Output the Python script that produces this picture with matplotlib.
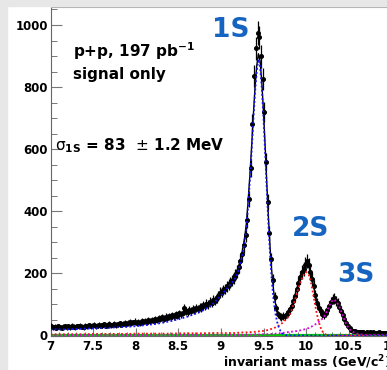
import numpy as np
import matplotlib
matplotlib.use('Agg')
import matplotlib.pyplot as plt
from matplotlib.patches import Rectangle
from matplotlib.ticker import MultipleLocator

plt.rcParams['font.family'] = ['DejaVu Sans']
plt.rcParams['mathtext.fontset'] = 'dejavusans'

# ---------------- data: histogram with 0.02 GeV bins starting at 7.0 ----------------
bin_lo = 7.0
bin_width = 0.02
counts = [
    31, 26, 28, 25, 29, 27, 24, 28, 30, 26,          # 7.0 - 7.2
    29, 27, 31, 28, 26, 30, 29, 32, 28, 27,          # 7.2 - 7.4
    31, 30, 33, 29, 31, 34, 30, 32, 35, 31,          # 7.4 - 7.6
    33, 36, 32, 34, 37, 33, 35, 38, 34, 36,          # 7.6 - 7.8
    39, 35, 38, 41, 37, 40, 43, 39, 42, 45,          # 7.8 - 8.0
    41, 44, 40, 46, 43, 47, 44, 49, 46, 51,          # 8.0 - 8.2
    48, 53, 50, 55, 52, 58, 54, 60, 57, 62,          # 8.2 - 8.4
    59, 65, 62, 68, 64, 71, 68, 74, 88, 80,          # 8.4 - 8.6
    76, 82, 79, 85, 82, 88, 86, 92, 90, 97,          # 8.6 - 8.8
    95, 102, 100, 108, 106, 114, 112, 122, 126, 138, # 8.8 - 9.0
    140, 146, 150, 158, 163, 170, 176, 185, 196, 206,  # 9.0 - 9.2
    220, 240, 262, 290, 325, 372, 440, 540, 680, 835,  # 9.2 - 9.4
    925, 975, 960, 900, 825, 720, 560, 430, 330, 245,  # 9.4 - 9.6
    180, 125, 88, 68, 62, 60, 63, 62, 68, 76,          # 9.6 - 9.8
    84, 96, 110, 128, 150, 170, 188, 205, 215, 228,    # 9.8 - 10.0
    240, 226, 205, 182, 158, 130, 105, 90, 78, 70,     # 10.0 - 10.2
    66, 72, 82, 96, 108, 118, 120, 112, 104, 92,       # 10.2 - 10.4
    80, 66, 52, 40, 30, 24, 18, 15, 13, 12,            # 10.4 - 10.6
    11, 12, 10, 11, 9, 10, 9, 11, 8, 10,               # 10.6 - 10.8
    9, 8, 10, 9, 8, 9, 8, 9, 7, 8,                     # 10.8 - 11.0
]
errors = [
    8, 7, 8, 7, 8, 8, 7, 8, 8, 7,
    8, 8, 8, 8, 7, 8, 8, 8, 8, 8,
    8, 8, 8, 8, 8, 8, 8, 8, 9, 8,
    8, 9, 8, 9, 9, 8, 9, 9, 9, 9,
    9, 9, 9, 9, 9, 9, 10, 9, 9, 10,
    9, 10, 9, 10, 10, 10, 10, 10, 10, 10,
    10, 10, 10, 11, 10, 11, 11, 11, 11, 11,
    11, 12, 11, 12, 12, 12, 12, 12, 13, 13,
    12, 13, 13, 13, 13, 13, 13, 14, 14, 14,
    14, 14, 14, 15, 15, 15, 15, 16, 16, 17,
    17, 17, 17, 18, 18, 18, 18, 19, 19, 20,
    20, 21, 22, 23, 24, 25, 27, 29, 32, 35,
    37, 38, 38, 37, 35, 33, 29, 26, 23, 20,
    18, 15, 13, 12, 12, 12, 12, 12, 12, 13,
    14, 15, 16, 17, 19, 20, 21, 22, 23, 24,
    24, 23, 22, 21, 20, 18, 16, 15, 14, 13,
    13, 13, 14, 15, 16, 16, 17, 16, 16, 15,
    14, 13, 12, 10, 9, 8, 7, 7, 6, 6,
    6, 6, 5, 6, 5, 5, 5, 6, 5, 5,
    5, 5, 5, 5, 5, 5, 5, 5, 5, 5,
]

# ---------------- fit components ----------------
curve_mass = np.round(np.concatenate([
    np.arange(7.0, 9.15, 0.1),      # 22 points
    np.arange(9.16, 9.77, 0.02),    # 31 points
    np.arange(9.79, 10.70, 0.03),   # 31 points
    [10.8, 10.9, 11.0],
]), 3)
fit_1s = [
    19, 20, 20, 21, 22, 23, 24, 25, 27, 28, 30, 33, 36, 40, 46, 52, 60, 70, 82, 100, 128, 160,
    180, 192, 205, 222, 245, 270, 305, 350, 420, 500, 590, 690, 780, 850, 890, 866, 797, 700,
    585, 460, 345, 245, 168, 110, 70, 44, 26, 14, 7, 3, 1,
    0, 0, 0, 0, 0, 0, 0, 0, 0, 0, 0, 0, 0, 0, 0, 0, 0, 0, 0, 0, 0, 0, 0, 0, 0, 0, 0, 0, 0, 0, 0,
    0, 0, 0,
]
fit_2s = [
    4, 4, 4, 4, 4, 5, 5, 5, 5, 5, 6, 6, 6, 6, 6, 7, 7, 7, 7, 8, 8, 8,
    8, 8, 9, 9, 9, 10, 10, 10, 11, 11, 11, 12, 12, 13, 13, 14, 14, 15, 16, 17,
    18, 20, 22, 24, 26, 29, 32, 36, 40, 45, 51,
    60, 75, 97, 124, 152, 177, 195, 205, 197, 168, 122, 77, 42, 18, 6, 2,
    0, 0, 0, 0, 0, 0, 0, 0, 0, 0, 0, 0, 0, 0, 0,
    0, 0, 0,
]
fit_3s = [
    1, 1, 1, 1, 1, 1, 1, 1, 1, 1, 1, 1, 1, 2, 2, 2, 2, 2, 2, 2, 2, 2,
    2, 2, 2, 2, 2, 2, 2, 2, 3, 3, 3, 3, 3, 3, 3, 3, 4, 4, 4, 4,
    5, 5, 5, 6, 6, 7, 7, 8, 8, 9, 10,
    11, 12, 13, 14, 15, 17, 19, 21, 24, 28, 33, 38, 44, 51, 60, 76,
    95, 110, 116, 108, 92, 72, 50, 32, 20, 13, 9, 6, 4, 3, 2,
    2, 1, 1,
]
bkg_mass = [7.0, 11.0]
bkg_level = [1.5, 1.5]

xtick_vals = [7, 7.5, 8, 8.5, 9, 9.5, 10, 10.5, 11]
xtick_labels = ['7', '7.5', '8', '8.5', '9', '9.5', '10', '10.5', '11']
ytick_vals = [0, 200, 400, 600, 800, 1000]
ytick_labels = ['0', '200', '400', '600', '800', '1000']

# ---------------- figure ----------------
W, H = 387, 370
fig = plt.figure(figsize=(W / 100, H / 100), dpi=100)
fig.patch.set_facecolor('white')

def fx(px):
    return px / W

def fy(py):
    return 1 - py / H

fig.patches.append(Rectangle((0, 0), fx(6.5), 1, transform=fig.transFigure,
                             color='#e7e7e7', zorder=0))
fig.patches.append(Rectangle((0, fy(6)), 1, 6 / H, transform=fig.transFigure,
                             color='#e7e7e7', zorder=0))

ax = fig.add_axes([fx(50.5), fy(335.5), (391.3 - 50.5) / W, (335.5 - 7) / H])
ax.set_xlim(7, 11)
ax.set_ylim(0, 1058)

centers = bin_lo + bin_width * (np.arange(len(counts)) + 0.5)
counts = np.array(counts, dtype=float)
errors = np.array(errors, dtype=float)

ax.errorbar(centers, counts, yerr=errors, xerr=bin_width / 2, fmt='o', ms=2.6,
            color='black', ecolor='black', elinewidth=0.9, capsize=0, zorder=3)

fit_1s = np.array(fit_1s, float)
fit_2s = np.array(fit_2s, float)
fit_3s = np.array(fit_3s, float)
total = fit_1s + fit_2s + fit_3s + bkg_level[0]

ax.plot(bkg_mass, bkg_level, color='#00c800', lw=1.6, zorder=4)
ax.plot(curve_mass, total, color='black', lw=1.0, zorder=4)
dot = (0, (1, 1.3))
ax.plot(curve_mass, fit_2s, color='#ff1010', lw=1.3, ls=dot, zorder=5)
ax.plot(curve_mass, fit_3s, color='#e000e0', lw=1.3, ls=dot, zorder=5)
ax.plot(curve_mass, fit_1s, color='#1010ff', lw=1.3, ls=dot, zorder=5)

ax.spines['right'].set_visible(False)
ax.spines['top'].set_color('#aaaaaa')
ax.spines['left'].set_color('#666666')
ax.spines['bottom'].set_color('#666666')

ax.set_xticks(xtick_vals)
ax.set_xticklabels(xtick_labels, fontsize=8.5, fontweight='bold')
ax.set_yticks(ytick_vals)
ax.set_yticklabels(ytick_labels, fontsize=8.5, fontweight='bold')
ax.xaxis.set_minor_locator(MultipleLocator(0.1))
ax.yaxis.set_minor_locator(MultipleLocator(50))
ax.tick_params(axis='x', which='major', direction='in', length=6, width=0.8,
               color='#777777', pad=3, top=False)
ax.tick_params(axis='x', which='minor', direction='in', length=3, width=0.7,
               color='#777777', top=False)
ax.tick_params(axis='y', which='major', direction='in', length=8, width=0.8,
               color='#777777', pad=2, right=False)
ax.tick_params(axis='y', which='minor', direction='in', length=4, width=0.7,
               color='#777777', right=False)

fig.text(fx(73), fy(51), r'p+p, 197 pb$^{\mathbf{-1}}$', fontsize=11,
         fontweight='bold', ha='left', va='center')
fig.text(fx(73), fy(74), 'signal only', fontsize=11, fontweight='bold',
         ha='left', va='center')
fig.text(fx(55), fy(146), r'$\mathrm{\sigma}_{\mathbf{1S}}$ = 83  $\pm$ 1.2 MeV',
         fontsize=11, fontweight='bold', ha='left', va='center')

blue = '#1565c0'
fig.text(fx(212), fy(30), '1S', fontsize=19, fontweight='bold', color=blue,
         ha='left', va='center')
fig.text(fx(292), fy(229), '2S', fontsize=19, fontweight='bold', color=blue,
         ha='left', va='center')
fig.text(fx(337), fy(275), '3S', fontsize=19, fontweight='bold', color=blue,
         ha='left', va='center')

fig.text(fx(391), fy(362), r'invariant mass (GeV/c$^{\mathbf{2}}$)', fontsize=9,
         fontweight='bold', ha='right', va='center')

fig.savefig('out.png', dpi=100)
